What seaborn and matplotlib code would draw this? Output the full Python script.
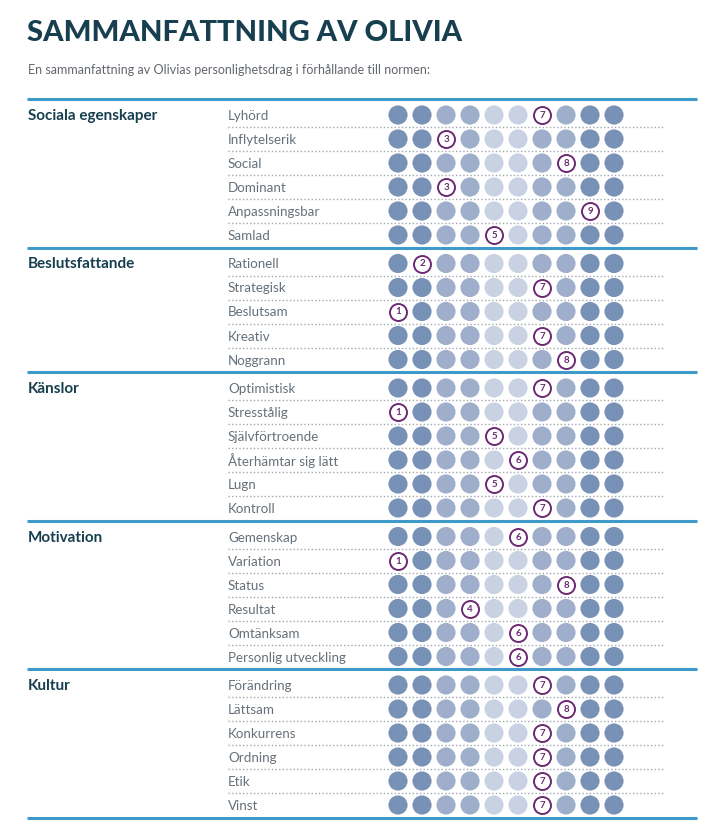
import numpy as np
import pandas as pd
import seaborn as sns
import matplotlib.pyplot as plt

# ---- data ----
title = 'SAMMANFATTNING AV OLIVIA'
subtitle = 'En sammanfattning av Olivias personlighetsdrag i förhållande till normen:'

sections = ['Sociala egenskaper', 'Beslutsfattande', 'Känslor', 'Motivation', 'Kultur']

sociala_items = ['Lyhörd', 'Inflytelserik', 'Social', 'Dominant', 'Anpassningsbar', 'Samlad']
sociala_scores = [7, 3, 8, 3, 9, 5]

beslut_items = ['Rationell', 'Strategisk', 'Beslutsam', 'Kreativ', 'Noggrann']
beslut_scores = [2, 7, 1, 7, 8]

kanslor_items = ['Optimistisk', 'Stresstålig', 'Självförtroende', 'Återhämtar sig lätt', 'Lugn', 'Kontroll']
kanslor_scores = [7, 1, 5, 6, 5, 7]

motivation_items = ['Gemenskap', 'Variation', 'Status', 'Resultat', 'Omtänksam', 'Personlig utveckling']
motivation_scores = [6, 1, 8, 4, 6, 6]

kultur_items = ['Förändring', 'Lättsam', 'Konkurrens', 'Ordning', 'Etik', 'Vinst']
kultur_scores = [7, 8, 7, 7, 7, 7]

scale = list(range(1, 11))
# shade band of each scale step (norm distribution)
bands = ['dark', 'dark', 'mid', 'mid', 'light', 'light', 'mid', 'mid', 'dark', 'dark']

all_items = [sociala_items, beslut_items, kanslor_items, motivation_items, kultur_items]
all_scores = [sociala_scores, beslut_scores, kanslor_scores, motivation_scores, kultur_scores]

# ---- style ----
sns.set_theme(style='white')
plt.rcParams['font.family'] = ['Lato', 'DejaVu Sans']

teal = '#173f4f'
blue_line = '#3f99c9'
purple = '#6d2a73'
label_grey = '#65707a'
palette = {'dark': '#7891b6', 'mid': '#9fafcb', 'light': '#c9d2e3'}

W, H = 722, 834
fig = plt.figure(figsize=(W / 100, H / 100), dpi=100)
ax = fig.add_axes([0, 0, 1, 1])
ax.set_xlim(0, W)
ax.set_ylim(H, 0)
ax.axis('off')

# layout (pixels)
top_line = 99
pitch = 24
first_gap = 16
last_gap = 12.5
dot_x0, dot_dx = 398, 24
label_x = 228
cat_x = 28

ax.text(cat_x - 1, 33, title, fontsize=21, fontweight='black', color=teal, va='center', ha='left')
ax.text(cat_x, 70, subtitle, fontsize=9.0, color='#62676e', va='center', ha='left')

rows = []
picks = []
line_y = top_line
lines = [line_y]
for sec, items, scores in zip(sections, all_items, all_scores):
    ys = [line_y + first_gap + i * pitch for i in range(len(items))]
    ax.text(cat_x, ys[0] + 1, sec, fontsize=11, fontweight='bold', color=teal, va='center', ha='left')
    for i, (item, sc, y) in enumerate(zip(items, scores, ys)):
        ax.text(label_x, y + 1, item, fontsize=9.6, color=label_grey, va='center', ha='left')
        for p, b in zip(scale, bands):
            x = dot_x0 + (p - 1) * dot_dx
            if p == sc:
                picks.append((x, y, sc))
            else:
                rows.append({'x': x, 'y': y, 'band': b})
        if i < len(items) - 1:
            ax.plot([label_x, 663], [y + pitch / 2, y + pitch / 2], color='#a3a8ae',
                    lw=1.0, linestyle=(0, (1, 1.6)))
    line_y = ys[-1] + last_gap
    lines.append(line_y)

for ly in lines:
    ax.plot([27, 697], [ly, ly], color=blue_line, lw=2.2, solid_capstyle='butt')

dots = pd.DataFrame(rows)
sns.scatterplot(data=dots, x='x', y='y', hue='band', palette=palette, s=190,
                linewidth=0, legend=False, ax=ax)

pk = pd.DataFrame(picks, columns=['x', 'y', 'score'])
ax.scatter(pk['x'], pk['y'], s=150, facecolor='white', edgecolor=purple, linewidth=1.4, zorder=3)
for x, y, sc in picks:
    ax.text(x, y + 0.5, str(sc), fontsize=7, fontweight='bold', color=purple,
            ha='center', va='center', zorder=4)

ax.set_xlim(0, W)
ax.set_ylim(H, 0)
fig.savefig('out.png', dpi=100)
